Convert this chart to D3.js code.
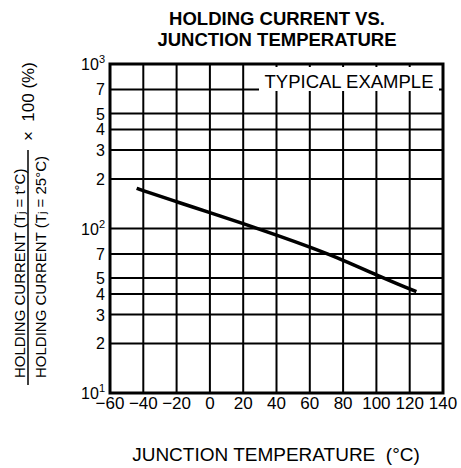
<!DOCTYPE html>
<html><head><meta charset="utf-8">
<script src="https://cdn.jsdelivr.net/npm/d3@7"></script>
<style>body{margin:0;background:#fff}svg{display:block}text{font-family:"Liberation Sans",Arial,sans-serif;fill:#000}</style>
</head><body>
<script>
const temps = [-44, -40, -20, 0, 20, 40, 60, 80, 100, 120, 124];
const holding = [175.6, 169.8, 145.3, 125.1, 107, 91.3, 77.2, 64.4, 52.2, 42.9, 41.3];
const xTicks = [-60, -40, -20, 0, 20, 40, 60, 80, 100, 120, 140];
const yGrid = [10, 20, 30, 40, 50, 70, 100, 200, 300, 400, 500, 700, 1000];
const yLabels = ["10|1","2","3","4","5","7","10|2","2","3","4","5","7","10|3"];
const titleLines = ["HOLDING CURRENT VS.", "JUNCTION TEMPERATURE"];
const xTitle = "JUNCTION TEMPERATURE  (°C)";
const noteText = "TYPICAL EXAMPLE";

const W = 461, H = 468;
const svg = d3.select("body").append("svg").attr("width", W).attr("height", H);
const x = d3.scaleLinear().domain([-60, 140]).range([110, 443]);
const y = d3.scaleLog().domain([10, 1000]).range([393, 64]);

// title
svg.selectAll("text.title").data(titleLines).join("text")
  .attr("class","title").attr("x", 277).attr("y", (d,i) => 25 + i*21)
  .attr("text-anchor","middle").style("font-weight","bold").style("font-size","18.5px").text(d => d);

const g = svg.append("g");
// grid
g.selectAll("line.v").data(xTicks).join("line")
  .attr("x1", d => x(d)).attr("x2", d => x(d)).attr("y1", y(1000)).attr("y2", y(10))
  .attr("stroke","#000").attr("stroke-width",2);
g.selectAll("line.h").data(yGrid).join("line")
  .attr("x1", x(-60)).attr("x2", x(140)).attr("y1", d => y(d)).attr("y2", d => y(d))
  .attr("stroke","#000").attr("stroke-width",2);

// note box
const noteG = svg.append("g");
noteG.append("rect").attr("x", 259).attr("y", y(1000)+3).attr("width", 180).attr("height", 24).attr("fill","#fff");
noteG.append("text").attr("x", 349).attr("y", 88).attr("text-anchor","middle").style("font-size","18.5px").text(noteText);

// border
svg.append("rect").attr("x", x(-60)).attr("y", y(1000)).attr("width", x(140)-x(-60)).attr("height", y(10)-y(1000))
  .attr("fill","none").attr("stroke","#000").attr("stroke-width",3);

// curve
const pts = temps.map((t,i) => [t, holding[i]]);
svg.append("path").datum(pts)
  .attr("d", d3.line().x(d => x(d[0])).y(d => y(d[1])).curve(d3.curveBasis))
  .attr("fill","none").attr("stroke","#000").attr("stroke-width",3.5);

// y labels
yGrid.forEach((v,i) => {
  const lab = yLabels[i];
  const t = svg.append("text").attr("x", 105).attr("y", y(v)+6).attr("text-anchor","end").style("font-size","16px");
  if (lab.includes("|")) {
    const [b, e] = lab.split("|");
    t.append("tspan").text(b);
    t.append("tspan").attr("dy", -7).style("font-size","11px").text(e);
  } else t.text(lab);
});

// x labels
svg.selectAll("text.xl").data(xTicks).join("text").attr("class","xl")
  .attr("x", d => x(d)).attr("y", 409).attr("text-anchor","middle").style("font-size","17px")
  .text(d => d < 0 ? "\u2212" + Math.abs(d) : String(d));

// x title
svg.append("text").attr("x", 276).attr("y", 461).attr("text-anchor","middle")
  .style("font-size","19px").style("white-space","pre").text(xTitle);

// y title (fraction)
const yt = svg.append("g");
function rot(bx, by, size, anchor) {
  return yt.append("text").attr("transform", `translate(${bx},${by}) rotate(-90)`)
    .attr("text-anchor", anchor).style("font-size", size+"px").style("white-space","pre");
}
const num = rot(25, 378, 15, "start");
num.append("tspan").text("HOLDING CURRENT (T");
num.append("tspan").style("font-size","11px").text("j");
num.append("tspan").text(" = t°C)");
const den = rot(46, 378, 15, "start");
den.append("tspan").text("HOLDING CURRENT (T");
den.append("tspan").style("font-size","11px").text("j");
den.append("tspan").text(" = 25°C)");
yt.append("line").attr("x1", 28).attr("x2", 28).attr("y1", 150).attr("y2", 385).attr("stroke","#000").attr("stroke-width",1.5);
rot(34, 141, 17, "start").text("×  100 (%)");
</script>
</body></html>
